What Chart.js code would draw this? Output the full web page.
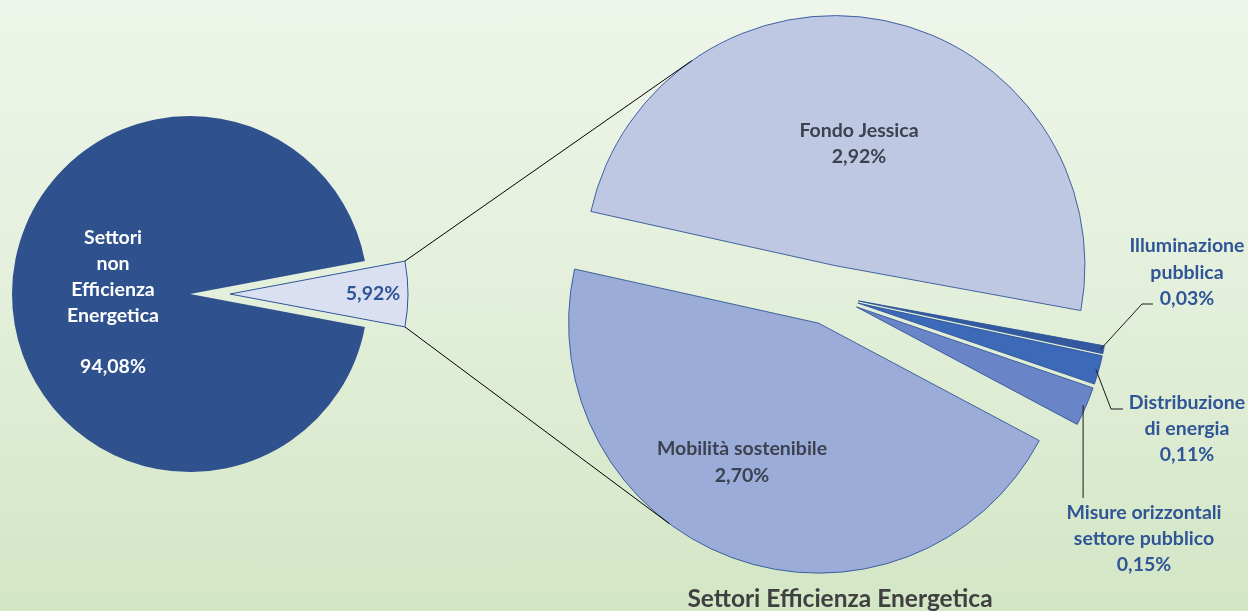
<!DOCTYPE html>
<html>
<head>
<meta charset="utf-8">
<script src="https://cdn.jsdelivr.net/npm/chart.js@4.4.1/dist/chart.umd.min.js"></script>
<style>
  html, body { margin: 0; padding: 0; }
  #wrap {
    position: relative; width: 1248px; height: 611px; overflow: hidden;
    background: linear-gradient(180deg, #EEF5EA 0%, #E4F0DC 45%, #D3E6C5 100%);
  }
  #wrap canvas { position: absolute; left: 0; top: 0; }
  #title {
    position: absolute; left: 590px; width: 500px; top: 584px; height: 28px;
    text-align: center; font: bold 24.5px Lato, "Open Sans", sans-serif; line-height: 28px;
    color: #404040;
  }
</style>
</head>
<body>
<div id="wrap">
  <canvas id="left" width="1248" height="611"></canvas>
  <canvas id="right" width="1248" height="611"></canvas>
  <div id="title">Settori Efficienza Energetica</div>
</div>
<script>
// ---------------- DATA ----------------
const leftCategories = ['Settori Efficienza Energetica', 'Settori non Efficienza Energetica'];
const leftValues = [5.92, 94.08];
const leftLabelLines = [[], ['Settori', 'non', 'Efficienza', 'Energetica', '']];

const rightCategories = ['Fondo Jessica', 'Illuminazione pubblica', 'Distribuzione di energia',
                         'Misure orizzontali settore pubblico', 'Mobilità sostenibile'];
const rightValues = [2.92, 0.03, 0.11, 0.15, 2.70];
const rightLabelLines = [['Fondo Jessica'], ['Illuminazione', 'pubblica'], ['Distribuzione', 'di energia'],
                         ['Misure orizzontali', 'settore pubblico'], ['Mobilità sostenibile']];

// ---------------- STYLE / LAYOUT ----------------
const FONT = 'Lato, "Open Sans", sans-serif';
const LABEL_SIZE = 19.5;
const W = 1248, H = 611;
const LEFT_CENTER = { x: 190, y: 294 }, LEFT_R = 178, LEFT_EXPLODE = [40, 0];
const RIGHT_CENTER = { x: 829, y: 295 }, RIGHT_R = 250, RIGHT_EXPLODE = 30, RIGHT_ROTATION = 282.5;
const leftColors = ['#DAE0F1', '#2F528F'];
const rightColors = ['#BEC8E3', '#3358A0', '#3C69B8', '#6A84C8', '#9CACD8'];

const leftLabelLayout = [
  { x: 373, y: 294, lh: 26, color: '#2F5597' },
  { x: 113, y: 238, lh: 25.8, color: '#FFFFFF' }
];
const rightLabelLayout = [
  { x: 859, y: 131, lh: 26, color: '#3D4250' },
  { x: 1187, y: 246, lh: 26.5, color: '#2F5597', leader: [[1142, 304], [1153, 304]] },
  { x: 1187, y: 403, lh: 26, color: '#2F5597', leader: [[1111, 409], [1123, 409]] },
  { x: 1144, y: 513, lh: 26, color: '#2F5597', leader: [[null, 498]] },
  { x: 742, y: 449, lh: 27, color: '#3D4250' }
];

const fmt = v => v.toFixed(2).replace('.', ',') + '%';

function explode(dists) {
  return {
    id: 'explode',
    afterDatasetUpdate(chart, args) {
      args.meta.data.forEach((arc, i) => {
        const d = Array.isArray(dists) ? dists[i] : dists;
        const mid = (arc.startAngle + arc.endAngle) / 2;
        arc.x += Math.cos(mid) * d;
        arc.y += Math.sin(mid) * d;
      });
    }
  };
}

function drawLines(ctx, lines, lay) {
  ctx.save();
  ctx.font = 'bold ' + LABEL_SIZE + 'px ' + FONT;
  ctx.fillStyle = lay.color;
  ctx.textAlign = 'center';
  ctx.textBaseline = 'middle';
  lines.forEach((t, k) => { if (t) ctx.fillText(t, lay.x, lay.y + k * lay.lh); });
  ctx.restore();
}

function padFor(c) {
  const l = Math.max(0, 2 * c.x - W), r = Math.max(0, W - 2 * c.x);
  const t = Math.max(0, 2 * c.y - H), b = Math.max(0, H - 2 * c.y);
  return { left: l, right: r, top: t, bottom: b };
}

const leftTotal = leftValues.reduce((a, b) => a + b, 0);

const leftChart = new Chart(document.getElementById('left'), {
  type: 'pie',
  data: {
    labels: leftCategories,
    datasets: [{
      data: leftValues,
      backgroundColor: leftColors,
      borderColor: ['#2F5597', '#2F528F'],
      borderWidth: [1, 0],
      radius: LEFT_R
    }]
  },
  options: {
    responsive: false, animation: false, events: [],
    rotation: 90 - leftValues[0] / leftTotal * 180,
    layout: { padding: padFor(LEFT_CENTER) },
    plugins: { legend: { display: false }, tooltip: { enabled: false } }
  },
  plugins: [explode(LEFT_EXPLODE), {
    id: 'leftLabels',
    afterDatasetsDraw(chart) {
      const ctx = chart.ctx;
      leftValues.forEach((v, i) => drawLines(ctx, leftLabelLines[i].concat([fmt(v)]), leftLabelLayout[i]));
    }
  }]
});

function tangent(P, O, r, sign) {
  const dx = P.x - O.x, dy = P.y - O.y;
  const d = Math.hypot(dx, dy);
  const phi = Math.atan2(dy, dx);
  const a = phi + sign * Math.acos(r / d);
  return { x: O.x + r * Math.cos(a), y: O.y + r * Math.sin(a) };
}

new Chart(document.getElementById('right'), {
  type: 'pie',
  data: {
    labels: rightCategories,
    datasets: [{
      data: rightValues,
      backgroundColor: rightColors,
      borderColor: '#2F5597',
      borderWidth: 0.9,
      radius: RIGHT_R
    }]
  },
  options: {
    responsive: false, animation: false, events: [],
    rotation: RIGHT_ROTATION,
    layout: { padding: padFor(RIGHT_CENTER) },
    plugins: { legend: { display: false }, tooltip: { enabled: false } }
  },
  plugins: [explode(RIGHT_EXPLODE), {
    id: 'rightOverlay',
    afterDatasetsDraw(chart) {
      const ctx = chart.ctx;
      const arcs = chart.getDatasetMeta(0).data;
      rightValues.forEach((v, i) => {
        const lay = rightLabelLayout[i];
        drawLines(ctx, rightLabelLines[i].concat([fmt(v)]), lay);
        if (lay.leader) {
          const a = arcs[i];
          const mid = (a.startAngle + a.endAngle) / 2;
          const sx = a.x + Math.cos(mid) * (a.outerRadius - 3);
          const sy = a.y + Math.sin(mid) * (a.outerRadius - 3);
          ctx.save();
          ctx.strokeStyle = '#1a1a1a'; ctx.lineWidth = 1;
          ctx.beginPath(); ctx.moveTo(sx, sy);
          lay.leader.forEach(p => ctx.lineTo(p[0] === null ? sx : p[0], p[1]));
          ctx.stroke(); ctx.restore();
        }
      });
      const s = leftChart.getDatasetMeta(0).data[0];
      const top = { x: s.x + s.outerRadius * Math.cos(s.startAngle), y: s.y + s.outerRadius * Math.sin(s.startAngle) };
      const bot = { x: s.x + s.outerRadius * Math.cos(s.endAngle), y: s.y + s.outerRadius * Math.sin(s.endAngle) };
      const first = arcs[0], last = arcs[arcs.length - 1];
      const t1 = tangent(top, { x: first.x, y: first.y }, first.outerRadius, 1);
      const t2 = tangent(bot, { x: last.x, y: last.y }, last.outerRadius, -1);
      ctx.save();
      ctx.strokeStyle = '#000'; ctx.lineWidth = 1;
      ctx.beginPath();
      ctx.moveTo(top.x, top.y); ctx.lineTo(t1.x, t1.y);
      ctx.moveTo(bot.x, bot.y); ctx.lineTo(t2.x, t2.y);
      ctx.stroke(); ctx.restore();
    }
  }]
});
</script>
</body>
</html>
